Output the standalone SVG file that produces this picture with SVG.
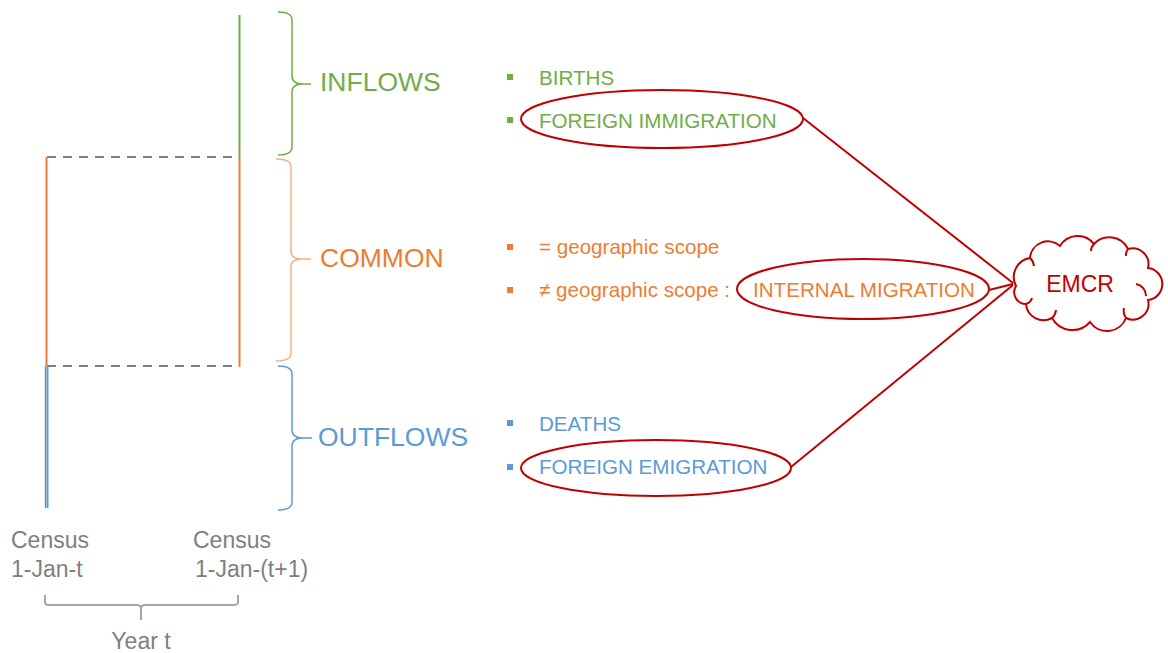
<svg xmlns="http://www.w3.org/2000/svg" width="1168" height="653" viewBox="0 0 1168 653">
<style>
text{font-family:"Liberation Sans",Arial,sans-serif}
.g{fill:#70AD47}.o{fill:#ED7D31}.b{fill:#5B9BD5}.gr{fill:#7F7F7F}.r{fill:#C00000}
.big{font-size:26.5px}.sm{font-size:20.6px}.ax{font-size:23px}
.brace{fill:none;stroke-width:1.5}
.red{fill:none;stroke:#C00000;stroke-width:2}
</style>
<rect width="1168" height="653" fill="#fff"/>
<g id="timeline">
<line x1="47" y1="157" x2="239" y2="157" stroke="#7F7F7F" stroke-width="2" stroke-dasharray="9,7"/>
<line x1="47" y1="366" x2="239" y2="366" stroke="#7F7F7F" stroke-width="2" stroke-dasharray="9,7"/>
<line x1="239.5" y1="15" x2="239.5" y2="157" stroke="#70AD47" stroke-width="2"/>
<line x1="239.5" y1="157" x2="239.5" y2="367" stroke="#ED7D31" stroke-width="2"/>
<line x1="46.5" y1="157" x2="46.5" y2="366" stroke="#ED7D31" stroke-width="2"/>
<line x1="45.5" y1="366" x2="45.5" y2="508" stroke="#8c8c8c" stroke-width="1.5"/>
<line x1="47.5" y1="366" x2="47.5" y2="508" stroke="#5B9BD5" stroke-width="2"/>
</g>
<g id="inflows">
<path class="brace" stroke="#70AD47" d="M278,12 Q292,12 292,20 L292,76 Q292,84 303,84 L311,84 M303,84 Q292,84 292,92 L292,147 Q292,155 278,155"/>
<text class="g big" x="320" y="91">INFLOWS</text>
</g>
<g id="common">
<path class="brace" stroke="#F4B183" d="M276,159 Q291,159 291,167 L291,251 Q291,259 302,259 L311,259 M302,259 Q291,259 291,267 L291,353 Q291,361 276,361"/>
<text class="o big" x="320" y="267">COMMON</text>
</g>
<g id="outflows">
<path class="brace" stroke="#5B9BD5" d="M278,366 Q292,366 292,374 L292,430 Q292,438 303,438 L312,438 M303,438 Q292,438 292,446 L292,502 Q292,510 278,510"/>
<text class="b big" x="318" y="446">OUTFLOWS</text>
</g>
<g id="inflow-items">
<rect class="g" x="507" y="74" width="6" height="6"/>
<text class="g sm" x="539" y="85">BIRTHS</text>
<rect class="g" x="507" y="117" width="6" height="6"/>
<text class="g sm" x="539" y="128">FOREIGN IMMIGRATION</text>
<ellipse class="red" cx="662" cy="119" rx="141" ry="29"/>
</g>
<g id="common-items">
<rect class="o" x="507" y="244" width="6" height="6"/>
<text class="o sm" x="539" y="254">= geographic scope</text>
<rect class="o" x="507" y="287" width="6" height="6"/>
<text class="o sm" x="539" y="297">≠ geographic scope :</text>
<text class="o sm" x="753" y="297">INTERNAL MIGRATION</text>
<ellipse class="red" cx="863" cy="289" rx="126" ry="30"/>
</g>
<g id="outflow-items">
<rect class="b" x="507" y="420" width="6" height="6"/>
<text class="b sm" x="539" y="431">DEATHS</text>
<rect class="b" x="507" y="464" width="6" height="6"/>
<text class="b sm" x="539" y="474">FOREIGN EMIGRATION</text>
<ellipse class="red" cx="656" cy="468" rx="135" ry="28"/>
</g>
<g id="connectors">
<line class="red" x1="803" y1="118" x2="1013" y2="283"/>
<line class="red" x1="989" y1="290" x2="1013" y2="284"/>
<line class="red" x1="791" y1="467" x2="1013" y2="285"/>
</g>
<g id="emcr">
<path class="red" d="M1016,286 A19.3,19.3 0 0 1 1030,258 A18,18 0 0 1 1060,246 A20.6,20.6 0 0 1 1094,244 A20.9,20.9 0 0 1 1128,249 A15.9,15.9 0 0 1 1148,268 A16.1,16.1 0 0 1 1148,300 A15.7,15.7 0 0 1 1126,318 A20.4,20.4 0 0 1 1090,322 A23.3,23.3 0 0 1 1052,318 A17.6,17.6 0 0 1 1026,304 A11.8,11.8 0 0 1 1016,286 Z"/>
<path class="red" d="M1136,284 A12,12 0 0 1 1146,296 M1126,318 A12,12 0 0 1 1124,308 M1052,318 A12,12 0 0 0 1056,310 M1026,304 A9,9 0 0 0 1032,298 M1030,258 A12,12 0 0 1 1034,266 M1094,244 A10,10 0 0 0 1091,251 M1128,249 A10,10 0 0 0 1126,256"/>
<text class="r" x="1080" y="292" font-size="23" text-anchor="middle">EMCR</text>
</g>
<g id="axis">
<text class="gr ax" x="11" y="548">Census</text>
<text class="gr ax" x="11" y="577">1-Jan-t</text>
<text class="gr ax" x="193" y="548">Census</text>
<text class="gr ax" x="195" y="577">1-Jan-(t+1)</text>
<path fill="none" stroke="#A6A6A6" stroke-width="2" d="M45,595 L45,602 Q45,605 49,605 L137,605 Q141,605 141,609 L141,620 M141,609 Q141,605 145,605 L234,605 Q238,605 238,602 L238,595"/>
<text class="gr ax" x="141" y="649" text-anchor="middle">Year t</text>
</g>
</svg>
